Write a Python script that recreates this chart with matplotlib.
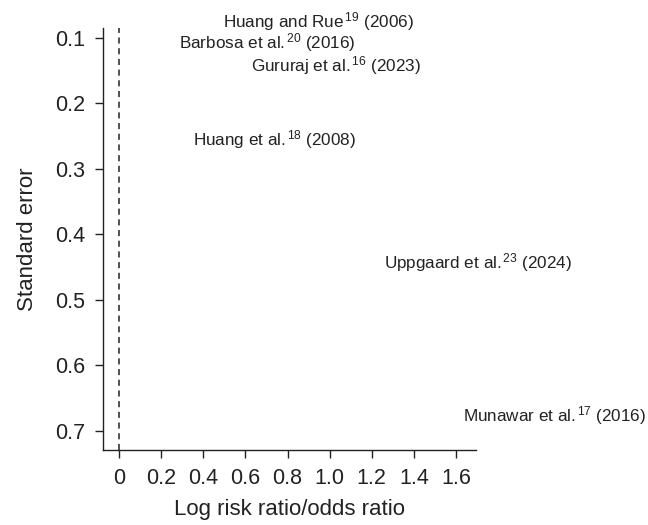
import numpy as np
import matplotlib.pyplot as plt

plt.rcParams['font.family'] = ['Liberation Sans', 'DejaVu Sans']
plt.rcParams['mathtext.fontset'] = 'custom'
plt.rcParams['mathtext.rm'] = 'Liberation Sans'
plt.rcParams['mathtext.it'] = 'Liberation Sans'

# studies: effect (log RR/OR), standard error
studies = ['Huang and Rue', 'Barbosa et al.', 'Gururaj et al.', 'Huang et al.',
           'Uppgaard et al.', 'Munawar et al.']
refs = ['19', '20', '16', '18', '23', '17']
years = ['2006', '2016', '2023', '2008', '2024', '2016']
effect = [0.948, 0.706, 1.029, 0.74, 1.703, 2.066]
se = [0.075, 0.108, 0.143, 0.255, 0.443, 0.677]

xticks = [0, 0.2, 0.4, 0.6, 0.8, 1.0, 1.2, 1.4, 1.6]
xticklabels = ['0', '0.2', '0.4', '0.6', '0.8', '1.0', '1.2', '1.4', '1.6']
yticks = [0.1, 0.2, 0.3, 0.4, 0.5, 0.6, 0.7]

fig = plt.figure(figsize=(6.48, 5.25), dpi=100)
ax = fig.add_axes([0.159, 0.143, 0.5756, 0.804])

ax.axvline(0, color='#222222', linestyle=(0, (4, 3)), linewidth=1.1)

for name, r, yr, x, y in zip(studies, refs, years, effect, se):
    ax.text(x, y, name + r'$^{\,' + r + r'}$ (' + yr + ')', ha='center', va='center',
            fontsize=12.3, color='#222222')

ax.set_xlim(-0.076, 1.695)
ax.set_ylim(0.729, 0.085)
ax.set_xticks(xticks)
ax.set_xticklabels(xticklabels)
ax.set_yticks(yticks)
ax.set_yticklabels([f'{v:.1f}' for v in yticks])

for s in ['top', 'right']:
    ax.spines[s].set_visible(False)
for s in ['left', 'bottom']:
    ax.spines[s].set_linewidth(1.0)
    ax.spines[s].set_color('#222222')
ax.tick_params(labelsize=15.5, length=6, width=1.0, colors='#222222', pad=7)

ax.set_xlabel('Log risk ratio/odds ratio', fontsize=16, color='#222222', labelpad=7)
ax.set_ylabel('Standard error', fontsize=16, color='#222222', labelpad=12)

fig.savefig('out.png', dpi=100)
